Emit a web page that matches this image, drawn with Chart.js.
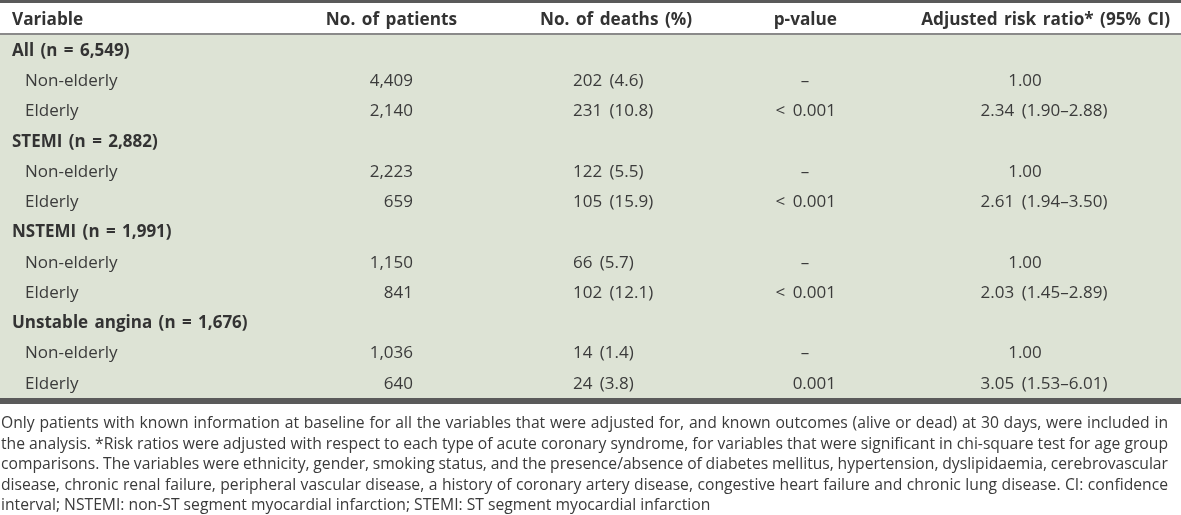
<!DOCTYPE html>
<html>
<head>
<meta charset="utf-8">
<script src="https://cdn.jsdelivr.net/npm/chart.js@4.4.1/dist/chart.umd.min.js"></script>
<style>
  html, body { margin: 0; padding: 0; background: #ffffff; overflow: hidden; }
  #wrap { width: 1181px; height: 515px; position: relative; }
</style>
</head>
<body>
<div id="wrap"><canvas id="c"></canvas></div>
<script>
// ---------------- data ----------------
const columnHeaders = ['Variable', 'No. of patients', 'No. of deaths (%)', 'p-value', 'Adjusted risk ratio* (95% CI)'];
const groupNames = ['All', 'STEMI', 'NSTEMI', 'Unstable angina'];
const groupTotals = [6549, 2882, 1991, 1676];
const subgroupNames = ['Non-elderly', 'Elderly'];
const patients = [4409, 2140, 2223, 659, 1150, 841, 1036, 640];
const deaths = [202, 231, 122, 105, 66, 102, 14, 24];
const deathPct = [4.6, 10.8, 5.5, 15.9, 5.7, 12.1, 1.4, 3.8];
const pValues = ['–', '< 0.001', '–', '< 0.001', '–', '< 0.001', '–', '0.001'];
const riskRatio = [1.00, 2.34, 1.00, 2.61, 1.00, 2.03, 1.00, 3.05];
const ciLower = [null, 1.90, null, 1.94, null, 1.45, null, 1.53];
const ciUpper = [null, 2.88, null, 3.50, null, 2.89, null, 6.01];
const footnoteLines = [
  'Only patients with known information at baseline for all the variables that were adjusted for, and known outcomes (alive or dead) at 30 days, were included in',
  'the analysis. *Risk ratios were adjusted with respect to each type of acute coronary syndrome, for variables that were significant in chi-square test for age group',
  'comparisons. The variables were ethnicity, gender, smoking status, and the presence/absence of diabetes mellitus, hypertension, dyslipidaemia, cerebrovascular',
  'disease, chronic renal failure, peripheral vascular disease, a history of coronary artery disease, congestive heart failure and chronic lung disease. CI: confidence',
  'interval; NSTEMI: non-ST segment myocardial infarction; STEMI: ST segment myocardial infarction'
];

// ---------------- build table rows from data ----------------
const fmtInt = v => v.toLocaleString('en-US');
const rows = [];
groupNames.forEach((g, gi) => {
  rows.push({ kind: 'group', label: g + ' (n = ' + fmtInt(groupTotals[gi]) + ')' });
  subgroupNames.forEach((s, si) => {
    const k = gi * subgroupNames.length + si;
    rows.push({
      kind: 'sub', label: s,
      patients: fmtInt(patients[k]),
      deaths: deaths[k] + ' (' + deathPct[k].toFixed(1) + ')',
      p: pValues[k],
      rr: ciLower[k] == null ? riskRatio[k].toFixed(2)
        : riskRatio[k].toFixed(2) + ' (' + ciLower[k].toFixed(2) + '–' + ciUpper[k].toFixed(2) + ')',
      isRef: ciLower[k] == null
    });
  });
});
const rowLabels = rows.map(r => r.label);

// ---------------- style / layout ----------------
const FONT = '"Open Sans", "Noto Sans", sans-serif';
const STYLE = {
  text: '#3b3b3b', head: '#333333', foot: '#3a3a3a',
  band: '#dde3d5', rule: '#5a5a5a', headRule: '#8a8a8a',
  cellFont: '17px ' + FONT, boldFont: 'bold 17px ' + FONT, headFont: 'bold 17.2px ' + FONT,
  footFont: '15.7px ' + FONT
};
// x anchors (in x-scale units) for each column
const COLS = {
  varX: 12, subX: 25,
  patHead: 457, patCell: 413,
  deathHead: 616, deathCell: 573,
  pHead: 837, pCell: 836, pDash: 805,
  rrHead: 1170, rrRef: 1025, rrCell: 1044
};

const tablePlugin = {
  id: 'tablePlugin',
  beforeDraw(chart) {
    const { ctx, chartArea, width } = chart;
    ctx.save();
    ctx.fillStyle = '#ffffff';
    ctx.fillRect(0, 0, width, chart.height);
    ctx.fillStyle = STYLE.band;
    ctx.fillRect(chartArea.left, chartArea.top, chartArea.right - chartArea.left, chartArea.bottom - chartArea.top);
    ctx.fillStyle = STYLE.rule;
    ctx.fillRect(0, 0, width, 3);
    ctx.fillStyle = STYLE.headRule;
    ctx.fillRect(0, chartArea.top - 2, width, 2);
    ctx.fillStyle = STYLE.rule;
    ctx.fillRect(0, chartArea.bottom, width, 6);
    ctx.restore();
  },
  afterDatasetsDraw(chart) {
    const { ctx, chartArea } = chart;
    const xs = chart.scales.x, ys = chart.scales.y;
    const X = v => xs.getPixelForValue(v);
    ctx.save();
    ctx.textBaseline = 'middle';
    // header
    const hy = chartArea.top / 2 + 2.5;
    ctx.font = STYLE.headFont; ctx.fillStyle = STYLE.head;
    ctx.wordSpacing = '2px';
    ctx.textAlign = 'left';   ctx.fillText(columnHeaders[0], X(COLS.varX), hy);
    ctx.textAlign = 'right';  ctx.fillText(columnHeaders[1], X(COLS.patHead), hy);
    ctx.textAlign = 'center'; ctx.fillText(columnHeaders[2], X(COLS.deathHead), hy);
    ctx.textAlign = 'right';  ctx.fillText(columnHeaders[3], X(COLS.pHead), hy);
    ctx.textAlign = 'right';  ctx.fillText(columnHeaders[4], X(COLS.rrHead), hy);
    // body
    rows.forEach((r, i) => {
      const y = ys.getPixelForValue(i) + 1;
      if (r.kind === 'group') {
        ctx.font = STYLE.boldFont; ctx.fillStyle = STYLE.head; ctx.textAlign = 'left';
        ctx.wordSpacing = '2px';
        ctx.fillText(r.label, X(COLS.varX), y);
        return;
      }
      ctx.font = STYLE.cellFont; ctx.fillStyle = STYLE.text;
      ctx.wordSpacing = '3px';
      ctx.textAlign = 'left';  ctx.fillText(r.label, X(COLS.subX), y);
      ctx.textAlign = 'right'; ctx.fillText(r.patients, X(COLS.patCell), y);
      ctx.textAlign = 'left';  ctx.fillText(r.deaths, X(COLS.deathCell), y);
      if (r.p === '–') { ctx.textAlign = 'center'; ctx.fillText(r.p, X(COLS.pDash), y); }
      else { ctx.textAlign = 'right'; ctx.fillText(r.p, X(COLS.pCell), y); }
      ctx.textAlign = 'center';
      ctx.fillText(r.rr, X(r.isRef ? COLS.rrRef : COLS.rrCell), y);
    });
    // footnote (justified)
    ctx.wordSpacing = '0px';
    ctx.font = STYLE.footFont; ctx.fillStyle = STYLE.foot; ctx.textAlign = 'left';
    const left = 1, right = 1168, top = chartArea.bottom + 25.5, lh = 20.6;
    footnoteLines.forEach((line, li) => {
      const y = top + li * lh;
      if (li === footnoteLines.length - 1) { ctx.fillText(line, left, y); return; }
      const words = line.split(' ');
      const wsum = words.reduce((a, w) => a + ctx.measureText(w).width, 0);
      const gap = (right - left - wsum) / (words.length - 1);
      let x = left;
      words.forEach(w => { ctx.fillText(w, x, y); x += ctx.measureText(w).width + gap; });
    });
    ctx.restore();
  }
};

new Chart(document.getElementById('c'), {
  type: 'bar',
  data: {
    labels: rowLabels,
    datasets: [{
      label: 'rows',
      data: rows.map(() => null),
      backgroundColor: 'rgba(0,0,0,0)'
    }]
  },
  options: {
    indexAxis: 'y',
    responsive: true,
    maintainAspectRatio: false,
    animation: false,
    events: [],
    layout: { padding: { top: 35, bottom: 117, left: 0, right: 0 } },
    plugins: { legend: { display: false }, tooltip: { enabled: false } },
    scales: {
      x: { type: 'linear', min: 0, max: 1181, display: false },
      y: { type: 'category', offset: true, display: false, grid: { display: false } }
    }
  },
  plugins: [tablePlugin]
});
</script>
</body>
</html>
